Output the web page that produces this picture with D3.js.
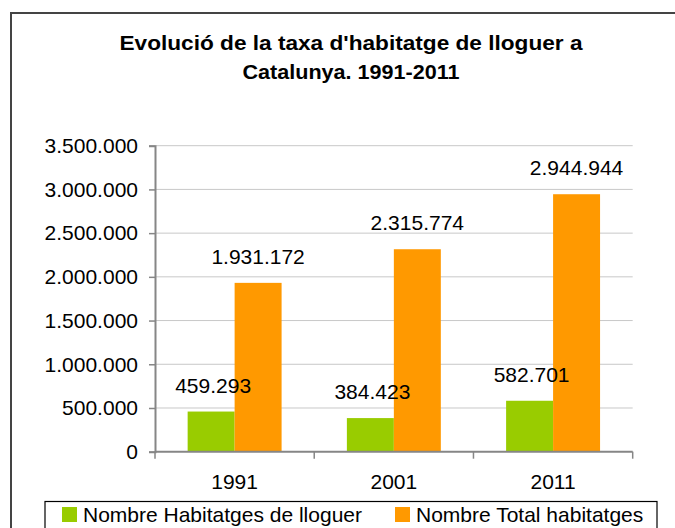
<!DOCTYPE html>
<html>
<head>
<meta charset="utf-8">
<script src="https://cdn.jsdelivr.net/npm/d3@7/dist/d3.min.js"></script>
<style>
html,body{margin:0;padding:0;background:#fff;}
svg{display:block;font-family:"Liberation Sans",Arial,sans-serif;}
</style>
</head>
<body>
<svg id="chart" width="675" height="528"></svg>
<script>
const categories = ["1991", "2001", "2011"];
const seriesNames = ["Nombre Habitatges de lloguer", "Nombre Total habitatges"];
const lloguer = [459293, 384423, 582701];
const total = [1931172, 2315774, 2944944];
const yTicks = [0, 500000, 1000000, 1500000, 2000000, 2500000, 3000000, 3500000];
const titleLines = ["Evolució de la taxa d'habitatge de lloguer a", "Catalunya. 1991-2011"];
const colors = ["#99CC00", "#FF9900"];

const seriesValues = [lloguer, total];
const fmt = v => d3.format(",")(v).replace(/,/g, ".");

const svg = d3.select("#chart");

// outer border
svg.append("rect").attr("x", 11).attr("y", 13).attr("width", 700).attr("height", 560)
  .attr("fill", "none").attr("stroke", "#444").attr("stroke-width", 2);

// title
const titleW = [463, 217];
svg.selectAll("text.title").data(titleLines).enter().append("text")
  .attr("class", "title")
  .attr("x", (d, i) => 351 - titleW[i] / 2)
  .attr("y", (d, i) => 50 + i * 29)
  .attr("textLength", (d, i) => titleW[i])
  .attr("lengthAdjust", "spacingAndGlyphs")
  .attr("font-size", 20).attr("font-weight", "bold").attr("fill", "#000")
  .text(d => d);

const x0 = 155, x1 = 632.7, yBase = 451.7, yTop = 145.7;
const y = d3.scaleLinear().domain([0, 3500000]).range([yBase, yTop]);
const x = d3.scaleBand().domain(categories).range([x0, x1]).paddingInner(0.41).paddingOuter(0.205);
const xs = d3.scaleBand().domain(d3.range(seriesNames.length)).range([0, x.bandwidth()]);

// gridlines
svg.append("g").selectAll("line").data(yTicks.filter(d => d > 0)).enter().append("line")
  .attr("x1", x0).attr("x2", x1).attr("y1", d => y(d)).attr("y2", d => y(d))
  .attr("stroke", "#c8c8c8").attr("stroke-width", 1);

// y axis
const yAxis = d3.axisLeft(y).tickValues(yTicks).tickFormat(fmt).tickSize(6).tickPadding(11);
const gy = svg.append("g").attr("transform", `translate(${x0},0)`).call(yAxis);
gy.select(".domain").attr("stroke", "#868686").attr("stroke-width", 2);
gy.selectAll(".tick line").attr("stroke", "#868686").attr("stroke-width", 1.5);
gy.selectAll(".tick text").attr("font-size", 21).attr("fill", "#000")
  .attr("font-family", "Liberation Sans, Arial, sans-serif");

// bars
const groups = svg.append("g").selectAll("g").data(categories).enter().append("g")
  .attr("transform", d => `translate(${x(d)},0)`);
groups.selectAll("rect").data((d, i) => seriesValues.map((s, k) => ({k, v: s[i]}))).enter().append("rect")
  .attr("x", d => xs(d.k)).attr("width", xs.bandwidth())
  .attr("y", d => y(d.v)).attr("height", d => yBase - y(d.v))
  .attr("fill", d => colors[d.k]);

// value labels
groups.selectAll("text").data((d, i) => seriesValues.map((s, k) => ({k, v: s[i]}))).enter().append("text")
  .attr("x", d => xs(d.k) + xs.bandwidth() / 2 + (d.k === 0 ? 2 : 0))
  .attr("y", d => y(d.v) - 19)
  .attr("text-anchor", "middle").attr("font-size", 21).attr("fill", "#000")
  .text(d => fmt(d.v));

// x axis
svg.append("line").attr("x1", x0).attr("x2", x1).attr("y1", yBase).attr("y2", yBase)
  .attr("stroke", "#868686").attr("stroke-width", 2);
const bounds = [x0].concat(categories.map(c => x(c) + x.bandwidth() + x.step() * 0.41 / 2));
svg.append("g").selectAll("line").data(bounds).enter().append("line")
  .attr("x1", d => d).attr("x2", d => d).attr("y1", yBase).attr("y2", yBase + 7)
  .attr("stroke", "#868686").attr("stroke-width", 1.5);
svg.append("g").selectAll("text").data(categories).enter().append("text")
  .attr("x", d => x(d) + x.bandwidth() / 2).attr("y", 489)
  .attr("text-anchor", "middle").attr("font-size", 21).attr("fill", "#000")
  .text(d => d);

// legend
svg.append("rect").attr("x", 45).attr("y", 501.5).attr("width", 612).attr("height", 60)
  .attr("fill", "#fff").attr("stroke", "#000").attr("stroke-width", 1.2);
const legX = [62, 395];
const leg = svg.append("g").selectAll("g").data(seriesNames).enter().append("g")
  .attr("transform", (d, i) => `translate(${legX[i]},507)`);
leg.append("rect").attr("width", 15).attr("height", 15).attr("fill", (d, i) => colors[i]);
leg.append("text").attr("x", 21).attr("y", 15).attr("font-size", 21).attr("fill", "#000").text(d => d);
</script>
</body>
</html>
